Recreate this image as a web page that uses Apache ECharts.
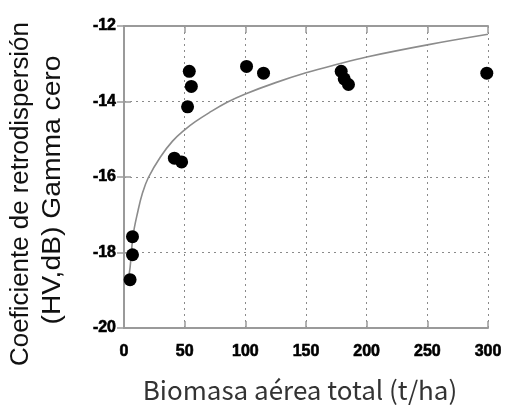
<!DOCTYPE html>
<html>
<head>
<meta charset="utf-8">
<script src="https://cdn.jsdelivr.net/npm/echarts@6/dist/echarts.min.js"></script>
<style>
html,body{margin:0;padding:0;background:#fff;}
#chart{width:505px;height:405px;}
</style>
</head>
<body>
<div id="chart"></div>
<script>
// Measured points
var biomass = [5, 7, 7, 41.5, 47.5, 52.4, 53.8, 55.5, 101, 115, 179, 181.5, 185, 299];
var backscatter = [-18.72, -18.06, -17.58, -15.5, -15.6, -14.14, -13.2, -13.6, -13.07, -13.25, -13.2, -13.4, -13.55, -13.25];
// Trend curve
var curveX = [3.5, 5, 7.5, 11.5, 15, 20, 30, 40, 50, 58.5, 70, 85, 100, 125, 150, 175, 200, 250, 300];
var curveY = [-18.7, -18.4, -17.55, -16.9, -16.45, -16.02, -15.47, -15.05, -14.75, -14.54, -14.3, -14.02, -13.8, -13.5, -13.24, -13.02, -12.82, -12.5, -12.22];
// Axis ticks
var xTicks = [0, 50, 100, 150, 200, 250, 300];
var yTicks = [-20, -18, -16, -14, -12];
var xTitle = 'Biomasa aérea total (t/ha)';
var yTitle1 = 'Coeficiente de retrodispersión';
var yTitle2 = '(HV,dB) Gamma cero';

var chart = echarts.init(document.getElementById('chart'), null, {renderer: 'canvas'});
var axisLineStyle = {color: '#9a9a9a', width: 2};
var tickStyle = {show: true, inside: true, length: 7, lineStyle: {color: '#9a9a9a', width: 1.5}};
var splitStyle = {show: true, lineStyle: {color: '#8a8a8a', type: [2, 4], width: 1}};

function labelStyle(margin) {
  return {
    show: true,
    margin: margin,
    textStyle: {fontFamily: 'Arial', fontWeight: 'bold', fontSize: 16, color: '#000'},
    fontFamily: 'Arial',
    fontWeight: 'bold',
    fontSize: 16,
    color: '#000',
    textBorderColor: '#000',
    textBorderWidth: 0.6
  };
}

var option = {
  animation: false,
  grid: {left: 124, right: 17, top: 26, bottom: 77},
  xAxis: [{
    type: 'value', min: xTicks[0], max: xTicks[xTicks.length - 1], interval: 50,
    axisLine: {show: true, lineStyle: axisLineStyle},
    axisTick: tickStyle,
    splitLine: splitStyle,
    axisLabel: labelStyle(16)
  }, {
    type: 'value', position: 'top', min: xTicks[0], max: xTicks[xTicks.length - 1], interval: 50,
    axisLine: {show: true, lineStyle: axisLineStyle},
    axisTick: tickStyle, splitLine: {show: false}, axisLabel: {show: false}
  }],
  yAxis: [{
    type: 'value', min: yTicks[0], max: yTicks[yTicks.length - 1], interval: 2,
    axisLine: {show: true, lineStyle: axisLineStyle},
    axisTick: tickStyle,
    splitLine: splitStyle,
    axisLabel: labelStyle(8)
  }, {
    type: 'value', position: 'right', min: yTicks[0], max: yTicks[yTicks.length - 1], interval: 2,
    axisLine: {show: true, lineStyle: axisLineStyle},
    axisTick: tickStyle, splitLine: {show: false}, axisLabel: {show: false}
  }],
  series: [{
    type: 'line',
    data: curveX.map(function (x, i) { return [x, curveY[i]]; }),
    smooth: 0.4, showSymbol: false,
    lineStyle: {color: '#8c8c8c', width: 1.6},
    z: 2
  }, {
    type: 'scatter',
    data: biomass.map(function (x, i) { return [x, backscatter[i]]; }),
    symbolSize: 13,
    itemStyle: {color: '#000', opacity: 1},
    z: 3
  }],
  graphic: [{
    type: 'text', x: 21, y: 194, rotation: Math.PI / 2, scaleX: 1.035,
    style: {text: yTitle1, font: '25px "Liberation Sans"', fill: '#111', align: 'center', verticalAlign: 'middle'}
  }, {
    type: 'text', x: 53, y: 190, rotation: Math.PI / 2, scaleX: 1.13,
    style: {text: yTitle2, font: '25px "Liberation Sans"', fill: '#111', align: 'center', verticalAlign: 'middle'}
  }, {
    type: 'text', x: 300, y: 390,
    style: {text: xTitle, font: '26px "Noto Sans CJK JP"', fill: '#333', align: 'center', verticalAlign: 'middle'}
  }]
};
chart.setOption(option);
</script>
</body>
</html>
